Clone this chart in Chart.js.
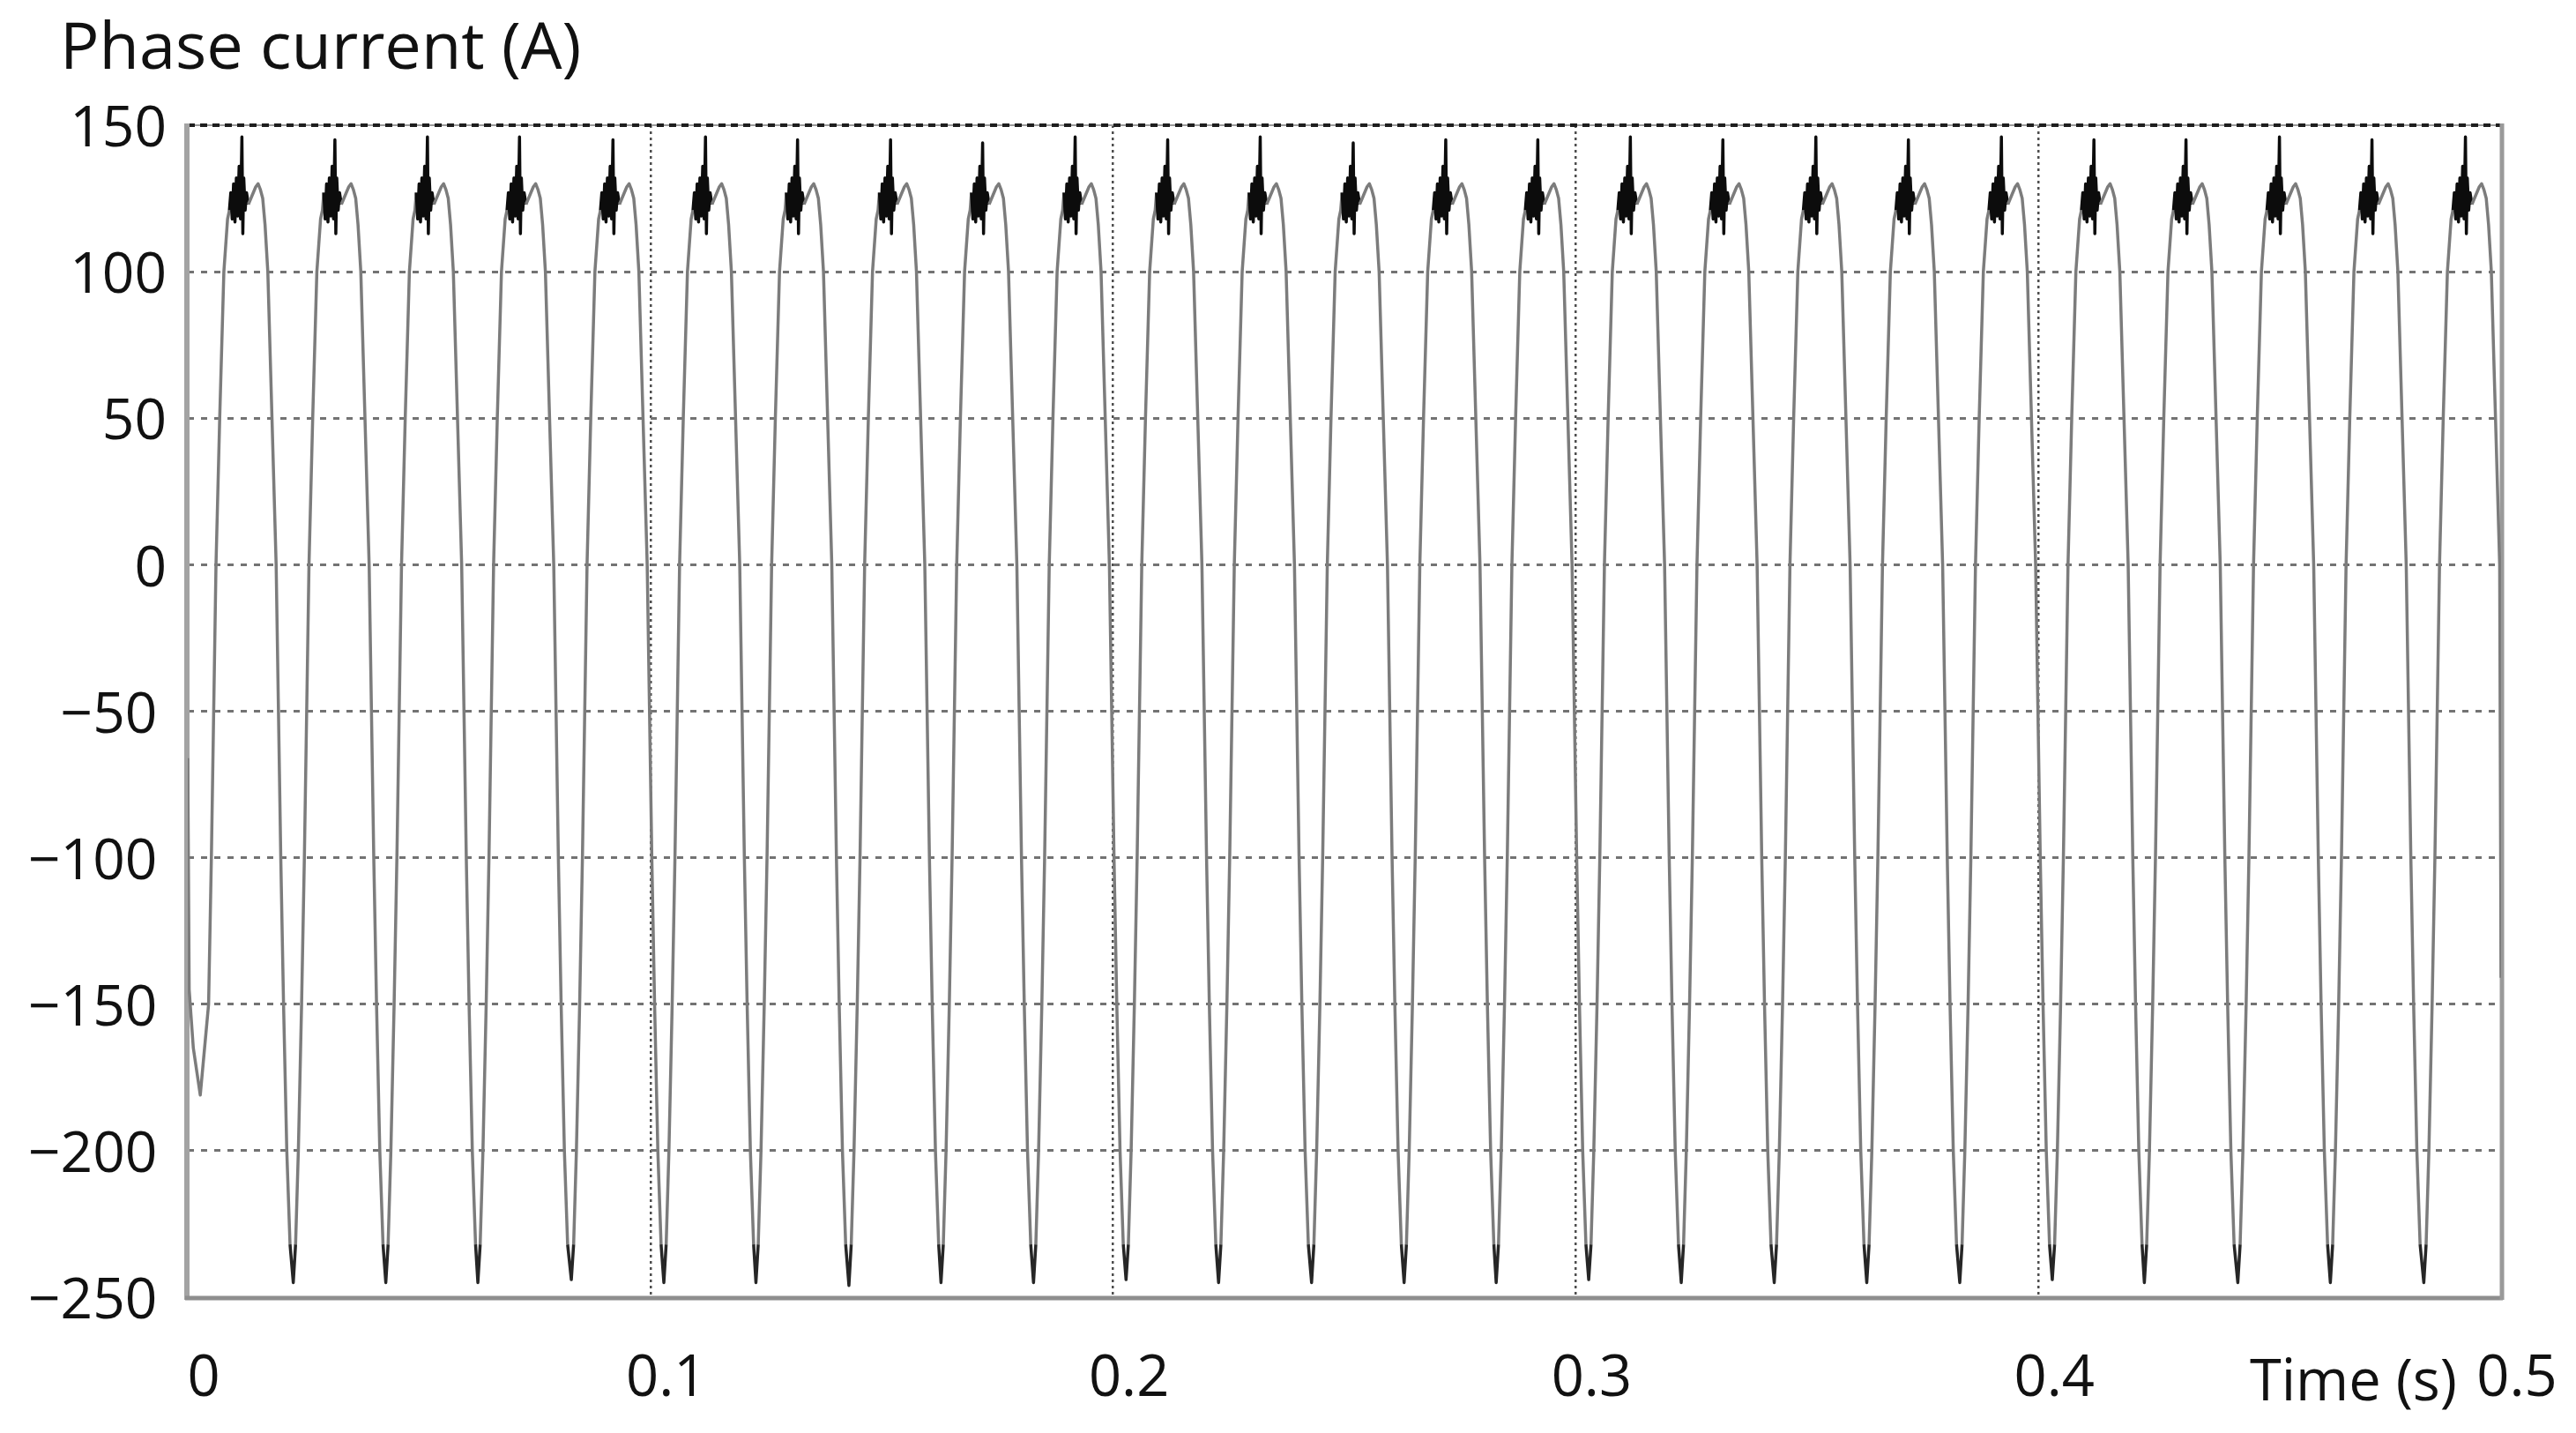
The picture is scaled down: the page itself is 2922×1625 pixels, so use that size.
<!DOCTYPE html>
<html>
<head>
<meta charset="utf-8">
<script src="https://cdn.jsdelivr.net/npm/chart.js@4.4.1/dist/chart.umd.min.js"></script>
<style>
  html, body { margin: 0; padding: 0; background: #ffffff; }
  #wrap { width: 2922px; height: 1625px; position: relative; }
</style>
</head>
<body>
<div id="wrap"><canvas id="c" width="2922" height="1625"></canvas></div>
<script>
// ---- Data ----
// Axis text
const yTitle = 'Phase current (A)';
const xTitle = 'Time (s)';
const xTickValues = [0, 0.1, 0.2, 0.3, 0.4, 0.5];
const yTickValues = [150, 100, 50, 0, -50, -100, -150, -200, -250];

// Start of the trace (transient), seconds and amperes
const startTimes = [0, 0.0003, 0.0012];
const startCurrent = [-66, -145, -165];

// Time of the switching spike on each positive half-cycle (s)
const spikeTimes = [0.0117, 0.0318, 0.0518, 0.0717, 0.0919, 0.1119, 0.1318, 0.1519, 0.1718, 0.1918,
                    0.2118, 0.2318, 0.2519, 0.2719, 0.2918, 0.3118, 0.3318, 0.3519, 0.3719, 0.3920,
                    0.4120, 0.4319, 0.4521, 0.4721, 0.4923];
// Height of each spike (A)
const spikePeaks = [146, 145, 146, 146, 145, 146, 145, 145, 144, 146, 145, 146, 144,
                    145, 145, 146, 145, 146, 145, 146, 145, 145, 146, 145, 146];
// Trough reached just before each spike (A)
const troughValues = [-181, -245, -245, -245, -244, -245, -245, -246, -245, -245, -244, -245, -245,
                      -245, -245, -244, -245, -245, -245, -245, -244, -245, -245, -245, -245];

// Shape of one cycle: offset from the spike (ms) and current (A)
const shapeOffsetMs = [-9.0, -8.5, -7.9, -7.2, -6.6, -6.1, -5.6, -4.8, -3.9, -3.1, -2.7,
                       -2.4, -2.1, -1.8, -1.5, -1.2, -0.9, -0.6, -0.3, 0.0, 0.2, 0.4, 0.7,
                       1.0, 1.4, 2.2, 3.0, 3.5, 4.0, 4.5, 5.0, 5.6, 6.5, 7.4, 7.9,
                       8.4, 9.0, 9.7, 10.4];
const shapeCurrent  = [-245, -232, -200, -150, -100, -50, 0, 50, 100, 118, 121,
                       127, 118, 130, 117, 132, 119, 136, 118, 145, 113, 132, 121,
                       127, 123, 126, 129, 130, 128, 125, 116, 100, 50, 0, -50,
                       -100, -150, -200, -232];

// End of the trace
const endTime = 0.5;
const endCurrent = -141;

// ---- Build the series from the arrays ----
function buildPoints() {
  const pts = [];
  startTimes.forEach((t, i) => pts.push({ x: t, y: startCurrent[i] }));
  spikeTimes.forEach((ts, k) => {
    shapeOffsetMs.forEach((o, j) => {
      let y = shapeCurrent[j];
      if (o === 0) y = spikePeaks[k];
      if (j === 0) y = troughValues[k];
      else if (o < 0 && y < troughValues[k]) return;
      const t = ts + o / 1000;
      if (t < 0 || t >= endTime) return;
      pts.push({ x: t, y: y });
    });
  });
  pts.push({ x: endTime, y: endCurrent });
  return pts;
}

const FONT = '"Open Sans", "DejaVu Sans", sans-serif';

function nearestSpikeOffset(x) {
  let best = 1e9;
  for (const s of spikeTimes) {
    const d = x - s;
    if (Math.abs(d) < Math.abs(best)) best = d;
  }
  return best;
}

const framePlugin = {
  id: 'frame',
  beforeDatasetsDraw(chart) {
    const { ctx, chartArea: a } = chart;
    ctx.save();
    ctx.lineCap = 'butt';
    // top edge: grey under dark dashes
    ctx.strokeStyle = '#9a9a9a';
    ctx.lineWidth = 2;
    ctx.beginPath(); ctx.moveTo(a.left, a.top); ctx.lineTo(a.right, a.top); ctx.stroke();
    ctx.strokeStyle = '#1e1e1e';
    ctx.lineWidth = 4;
    ctx.setLineDash([8, 6]);
    ctx.beginPath(); ctx.moveTo(a.left, a.top); ctx.lineTo(a.right, a.top); ctx.stroke();
    ctx.setLineDash([]);
    // left, bottom, right edges
    ctx.strokeStyle = '#a3a3a3';
    ctx.lineWidth = 6;
    ctx.beginPath(); ctx.moveTo(a.left - 1, a.top - 2); ctx.lineTo(a.left - 1, a.bottom + 3); ctx.stroke();
    ctx.strokeStyle = '#8e8e8e';
    ctx.lineWidth = 5;
    ctx.beginPath(); ctx.moveTo(a.left - 3, a.bottom + 1); ctx.lineTo(a.right + 2, a.bottom + 1); ctx.stroke();
    ctx.strokeStyle = '#9a9a9a';
    ctx.lineWidth = 5;
    ctx.beginPath(); ctx.moveTo(a.right + 1, a.top - 2); ctx.lineTo(a.right + 1, a.bottom + 3); ctx.stroke();
    ctx.restore();
  }
};

const textPlugin = {
  id: 'texts',
  afterDraw(chart) {
    const { ctx } = chart;
    ctx.save();
    ctx.fillStyle = '#111111';
    ctx.textBaseline = 'alphabetic';
    ctx.textAlign = 'left';
    ctx.font = '74px ' + FONT;
    ctx.fillText(yTitle, 68, 78);
    ctx.textAlign = 'right';
    ctx.font = '65px ' + FONT;
    ctx.fillText(xTitle, 2787, 1588);
    ctx.restore();
  }
};

function draw() {
  const ctx = document.getElementById('c').getContext('2d');
  new Chart(ctx, {
    type: 'line',
    data: {
      datasets: [{
        data: buildPoints(),
        borderColor: '#7c7c7c',
        borderWidth: 3.5,
        pointRadius: 0,
        tension: 0,
        borderJoinStyle: 'round',
        segment: {
          borderColor: c => {
            const x0 = c.p0.parsed.x, x1 = c.p1.parsed.x;
            const y0 = c.p0.parsed.y, y1 = c.p1.parsed.y;
            const d0 = nearestSpikeOffset(x0), d1 = nearestSpikeOffset(x1);
            if (d0 >= -0.0027 && d1 <= 0.0015 && d0 <= d1) return '#0c0c0c';
            if (y0 < -222 && y1 < -222) return '#262626';
            return undefined;
          }
        }
      }]
    },
    options: {
      responsive: false,
      animation: false,
      devicePixelRatio: 1,
      layout: { padding: { left: 0, right: 85, top: 142, bottom: 0 } },
      plugins: { legend: { display: false }, tooltip: { enabled: false }, title: { display: false } },
      scales: {
        x: {
          type: 'linear',
          min: 0, max: 0.5,
          afterBuildTicks: s => { s.ticks = xTickValues.map(v => ({ value: v })); },
          afterFit: s => { s.height = 154; s.paddingLeft = 0; s.paddingRight = 0; },
          ticks: {
            autoSkip: false,
            maxRotation: 0,
            padding: 54,
            labelOffset: 18,
            color: '#111111',
            font: { family: FONT, size: 65 },
            callback: v => (v === 0 ? '0' : Number(v).toFixed(1))
          },
          grid: {
            drawTicks: false,
            color: c => (c.tick && (c.tick.value === 0 || c.tick.value === 0.5)) ? 'rgba(0,0,0,0)' : '#4e4e4e',
            lineWidth: 2.5
          },
          border: { display: false, dash: [3, 4] }
        },
        y: {
          type: 'linear',
          min: -250, max: 150,
          afterBuildTicks: s => { s.ticks = yTickValues.map(v => ({ value: v })); },
          afterFit: s => { s.width = 213; s.paddingTop = 0; s.paddingBottom = 0; },
          ticks: {
            autoSkip: false,
            padding: 24,
            labelOffset: 6,
            color: '#111111',
            font: { family: FONT, size: 64 },
            callback: v => (v < 0 ? '\u2212' + Math.abs(v) + '\u2009' : String(v))
          },
          grid: {
            drawTicks: false,
            color: c => (c.tick && (c.tick.value === 150 || c.tick.value === -250)) ? 'rgba(0,0,0,0)' : '#737373',
            lineWidth: 3
          },
          border: { display: false, dash: [7, 8] }
        }
      }
    },
    plugins: [framePlugin, textPlugin]
  });
}

if (document.fonts && document.fonts.load) {
  Promise.all([document.fonts.load('64px "Open Sans"'), document.fonts.load('74px "Open Sans"')])
    .then(draw, draw);
} else {
  draw();
}
</script>
</body>
</html>
